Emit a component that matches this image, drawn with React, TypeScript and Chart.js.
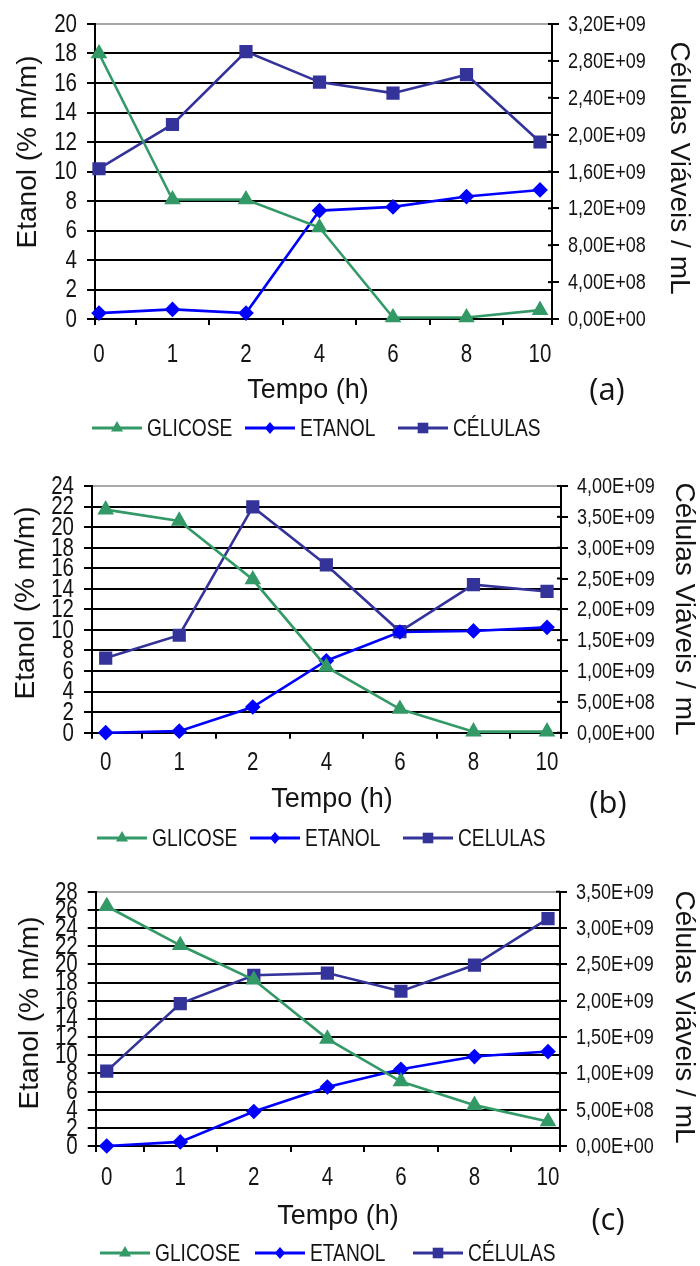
import React, { useEffect, useRef } from 'react';
import { Chart, registerables } from 'chart.js';

Chart.register(...registerables);

// ---------------- DATA ----------------
const timeLabels = ['0', '1', '2', '4', '6', '8', '10'];
const namesA = ['GLICOSE', 'ETANOL', 'CÉLULAS'];
const namesB = ['GLICOSE', 'ETANOL', 'CELULAS'];
const namesC = ['GLICOSE', 'ETANOL', 'CÉLULAS'];

const glicoseA = [18.0, 8.1, 8.1, 6.2, 0.1, 0.1, 0.6];
const etanolA = [0.4, 0.65, 0.4, 7.35, 7.6, 8.3, 8.75];
const celulasA = [1.63e9, 2.11e9, 2.9e9, 2.57e9, 2.45e9, 2.65e9, 1.92e9];

const glicoseB = [21.7, 20.6, 14.9, 6.4, 2.3, 0.1, 0.1];
const etanolB = [0.0, 0.15, 2.5, 7.0, 9.8, 9.9, 10.25];
const celulasB = [1.21e9, 1.58e9, 3.66e9, 2.72e9, 1.64e9, 2.4e9, 2.29e9];

const glicoseC = [26.4, 22.1, 18.3, 11.8, 7.1, 4.5, 2.7];
const etanolC = [0.0, 0.45, 3.8, 6.5, 8.45, 9.85, 10.4];
const celulasC = [1.03e9, 1.96e9, 2.35e9, 2.38e9, 2.13e9, 2.49e9, 3.13e9];

const leftMaxA = 20, leftStepA = 2, rightMaxA = 3.2e9, rightStepA = 4e8;
const leftMaxB = 24, leftStepB = 2, rightMaxB = 4e9, rightStepB = 5e8;
const leftMaxC = 28, leftStepC = 2, rightMaxC = 3.5e9, rightStepC = 5e8;

const leftTitle = 'Etanol (% m/m)';
const rightTitle = 'Células Viáveis / mL';
const xTitle = 'Tempo (h)';

// ---------------- STYLE ----------------
const GREEN = '#339966';
const BLUE = '#0000ff';
const NAVY = '#333399';
const TEXT = '#141414';
const SANS = '"Liberation Sans", Arial, sans-serif';
const TAGFONT = '"Open Sans", "Noto Sans", sans-serif';
const NARROW_X = 0.82; // horizontal condensing to mimic Arial Narrow

function fmtE(v: number): string {
  if (v === 0) return '0,00E+00';
  let e = Math.floor(Math.log10(v) + 1e-9);
  let m = v / Math.pow(10, e);
  if (m >= 9.995) { m /= 10; e += 1; }
  return m.toFixed(2).replace('.', ',') + 'E+' + String(e).padStart(2, '0');
}

function range(max: number, step: number): number[] {
  const out: number[] = [];
  const n = Math.round(max / step);
  for (let i = 0; i <= n; i++) out.push(i * step);
  return out;
}

type PanelCfg = {
  top: number; height: number;
  area: { l: number; r: number; t: number; b: number };
  xMin: number; xMax: number; xLabelY: number;
  leftMax: number; leftStep: number; rightMax: number; rightStep: number;
  glicose: number[]; etanol: number[]; celulas: number[]; names: string[];
  tag: string;
  leftTitlePos: [number, number]; rightTitlePos: [number, number];
  xTitlePos: [number, number]; tagPos: [number, number];
  legendX: number[]; legendY: number;
};

const panels: PanelCfg[] = [
  {
    top: 0, height: 440, area: { l: 95, r: 552, t: 24, b: 319 },
    xMin: -0.054, xMax: 6.163, xLabelY: 355,
    leftMax: leftMaxA, leftStep: leftStepA, rightMax: rightMaxA, rightStep: rightStepA,
    glicose: glicoseA, etanol: etanolA, celulas: celulasA, names: namesA, tag: '(a)',
    leftTitlePos: [28, 152], rightTitlePos: [679, 168], xTitlePos: [308, 391], tagPos: [607, 391],
    legendX: [92, 245, 398], legendY: 428,
  },
  {
    top: 440, height: 420, area: { l: 92, r: 561, t: 46, b: 292.7 },
    xMin: -0.186, xMax: 6.19, xLabelY: 323,
    leftMax: leftMaxB, leftStep: leftStepB, rightMax: rightMaxB, rightStep: rightStepB,
    glicose: glicoseB, etanol: etanolB, celulas: celulasB, names: namesB, tag: '(b)',
    leftTitlePos: [26, 163], rightTitlePos: [684, 169], xTitlePos: [332, 360], tagPos: [608, 364],
    legendX: [97, 250, 403], legendY: 398,
  },
  {
    top: 860, height: 406, area: { l: 95.7, r: 560, t: 31.7, b: 286 },
    xMin: -0.15, xMax: 6.163, xLabelY: 318,
    leftMax: leftMaxC, leftStep: leftStepC, rightMax: rightMaxC, rightStep: rightStepC,
    glicose: glicoseC, etanol: etanolC, celulas: celulasC, names: namesC, tag: '(c)',
    leftTitlePos: [30, 153], rightTitlePos: [684, 157], xTitlePos: [338, 357], tagPos: [608, 361],
    legendX: [100, 255, 413], legendY: 393,
  },
];

function drawMarker(ctx: CanvasRenderingContext2D, style: string, x: number, y: number, r: number, color: string) {
  ctx.save();
  ctx.fillStyle = color;
  ctx.beginPath();
  if (style === 'triangle') {
    for (let k = 0; k < 3; k++) {
      const a = (k * 2 * Math.PI) / 3;
      const px = x + Math.sin(a) * r, py = y - Math.cos(a) * r;
      if (k === 0) ctx.moveTo(px, py); else ctx.lineTo(px, py);
    }
  } else if (style === 'rectRot') {
    ctx.moveTo(x, y - r); ctx.lineTo(x + r * 0.85, y); ctx.lineTo(x, y + r); ctx.lineTo(x - r * 0.85, y);
  } else {
    const s = Math.SQRT1_2 * r;
    ctx.rect(x - s, y - s, 2 * s, 2 * s);
  }
  ctx.closePath();
  ctx.fill();
  ctx.restore();
}

function narrowText(ctx: CanvasRenderingContext2D, text: string, x: number, y: number, align: CanvasTextAlign, sx = NARROW_X) {
  ctx.save();
  ctx.translate(x, y);
  ctx.scale(sx, 1);
  ctx.textAlign = align;
  ctx.fillText(text, 0, 0);
  ctx.restore();
}

const extrasPlugin = {
  id: 'extras',
  afterDraw(chart: any, _args: any, opts: any) {
    const cfg: PanelCfg = opts.cfg;
    if (!cfg) return;
    const ctx: CanvasRenderingContext2D = chart.ctx;
    const ca = chart.chartArea;
    ctx.save();
    ctx.fillStyle = TEXT;
    ctx.textAlign = 'center';
    ctx.textBaseline = 'middle';

    const y1 = chart.scales.y1;
    const y = chart.scales.y;
    const x = chart.scales.x;

    // inner parts of right-axis tick marks
    ctx.strokeStyle = '#000';
    ctx.lineWidth = 2;
    y1.ticks.forEach((t: any) => {
      const py = y1.getPixelForValue(t.value);
      ctx.beginPath();
      ctx.moveTo(ca.right - 4, py);
      ctx.lineTo(ca.right, py);
      ctx.stroke();
    });

    // tick labels (condensed)
    ctx.font = `25px ${SANS}`;
    y.ticks.forEach((t: any) => {
      narrowText(ctx, String(t.value), ca.left - 18, y.getPixelForValue(t.value) + 1, 'right');
    });
    ctx.font = `22px ${SANS}`;
    y1.ticks.forEach((t: any) => {
      narrowText(ctx, fmtE(t.value), ca.right + 16, y1.getPixelForValue(t.value) + 1, 'left');
    });
    ctx.font = `25px ${SANS}`;
    x.ticks.forEach((t: any) => {
      if (Number.isInteger(t.value)) {
        narrowText(ctx, timeLabels[t.value], x.getPixelForValue(t.value), cfg.xLabelY, 'center');
      }
    });

    // left title
    ctx.font = `28px ${SANS}`;
    ctx.save();
    ctx.translate(cfg.leftTitlePos[0], cfg.leftTitlePos[1]);
    ctx.rotate(-Math.PI / 2);
    ctx.fillText(leftTitle, 0, 0);
    ctx.restore();

    // right title
    ctx.save();
    ctx.translate(cfg.rightTitlePos[0], cfg.rightTitlePos[1]);
    ctx.rotate(Math.PI / 2);
    ctx.fillText(rightTitle, 0, 0);
    ctx.restore();

    // x title
    ctx.font = `27px ${SANS}`;
    ctx.fillText(xTitle, cfg.xTitlePos[0], cfg.xTitlePos[1]);

    // tag
    ctx.font = `31px ${TAGFONT}`;
    ctx.fillText(cfg.tag, cfg.tagPos[0], cfg.tagPos[1]);

    // legend
    const ds = chart.data.datasets;
    ctx.font = `24px ${SANS}`;
    ds.forEach((d: any, i: number) => {
      const x0 = cfg.legendX[i];
      const len = 50;
      ctx.strokeStyle = d.borderColor;
      ctx.lineWidth = 3;
      ctx.beginPath();
      ctx.moveTo(x0, cfg.legendY);
      ctx.lineTo(x0 + len, cfg.legendY);
      ctx.stroke();
      drawMarker(ctx, d.pointStyle, x0 + len / 2, cfg.legendY, d.pointRadius, d.borderColor);
      ctx.fillStyle = TEXT;
      narrowText(ctx, d.label, x0 + len + 5, cfg.legendY + 1, 'left', 0.8);
    });
    ctx.restore();
  },
};

function Panel({ cfg }: { cfg: PanelCfg }) {
  const ref = useRef<HTMLCanvasElement | null>(null);
  useEffect(() => {
    if (!ref.current) return;
    const { area } = cfg;
    const XH = 60;
    const xTickVals = [cfg.xMin, 0, 0.5, 1, 1.5, 2, 2.5, 3, 3.5, 4, 4.5, 5, 5.5, 6, cfg.xMax];
    const leftTicks = range(cfg.leftMax, cfg.leftStep);
    const rightTicks = range(cfg.rightMax, cfg.rightStep);
    const toPts = (arr: number[]) => arr.map((v, i) => ({ x: i, y: v }));
    const chart = new Chart(ref.current, {
      type: 'line',
      data: {
        datasets: [
          { label: cfg.names[0], data: toPts(cfg.glicose), yAxisID: 'y', borderColor: GREEN, backgroundColor: GREEN,
            pointStyle: 'triangle', pointRadius: 7, borderWidth: 2.6, clip: false } as any,
          { label: cfg.names[1], data: toPts(cfg.etanol), yAxisID: 'y', borderColor: BLUE, backgroundColor: BLUE,
            pointStyle: 'rectRot', pointRadius: 6, borderWidth: 2.6, clip: false } as any,
          { label: cfg.names[2], data: toPts(cfg.celulas), yAxisID: 'y1', borderColor: NAVY, backgroundColor: NAVY,
            pointStyle: 'rect', pointRadius: 7.5, borderWidth: 2.6, clip: false } as any,
        ],
      },
      options: {
        animation: false,
        responsive: false,
        devicePixelRatio: 1,
        layout: { padding: { left: 0, right: 0, top: area.t, bottom: cfg.height - area.b - XH } },
        plugins: {
          legend: { display: false },
          tooltip: { enabled: false },
          extras: { cfg },
        } as any,
        scales: {
          x: {
            type: 'linear', position: 'bottom', min: cfg.xMin, max: cfg.xMax,
            afterBuildTicks: (ax: any) => { ax.ticks = xTickVals.map((v) => ({ value: v })); },
            afterFit: (s: any) => { s.height = XH; },
            ticks: { display: false, autoSkip: false },
            grid: {
              drawOnChartArea: false, tickLength: 6, lineWidth: 2,
              color: (c: any) => (c.tick && Number.isInteger(c.tick.value) ? 'rgba(0,0,0,0)' : '#000'),
            },
            border: { color: '#000', width: 2 },
          },
          y: {
            position: 'left', min: 0, max: cfg.leftMax,
            afterBuildTicks: (ax: any) => { ax.ticks = leftTicks.map((v) => ({ value: v })); },
            afterFit: (s: any) => { s.width = area.l; },
            ticks: { display: false, autoSkip: false },
            grid: {
              lineWidth: 2, tickLength: 8, tickColor: '#000',
              color: (c: any) => (c.tick && c.tick.value === cfg.leftMax ? '#a8a8a8' : '#000'),
            },
            border: { color: '#000', width: 2 },
          },
          y1: {
            position: 'right', min: 0, max: cfg.rightMax,
            afterBuildTicks: (ax: any) => { ax.ticks = rightTicks.map((v) => ({ value: v })); },
            afterFit: (s: any) => { s.width = 700 - area.r; },
            ticks: { display: false, autoSkip: false },
            grid: { drawOnChartArea: false, tickLength: 7, lineWidth: 2, color: '#000' },
            border: { color: '#000', width: 2 },
          },
        },
      } as any,
      plugins: [extrasPlugin],
    });
    return () => chart.destroy();
  }, [cfg]);
  return (
    <canvas
      ref={ref}
      width={700}
      height={cfg.height}
      style={{ position: 'absolute', left: 0, top: cfg.top, width: 700, height: cfg.height }}
    />
  );
}

export default function App() {
  return (
    <div style={{ position: 'absolute', left: 0, top: 0, width: 700, height: 1266, background: '#fff', overflow: 'hidden' }}>
      {panels.map((p, i) => (
        <Panel key={i} cfg={p} />
      ))}
    </div>
  );
}
